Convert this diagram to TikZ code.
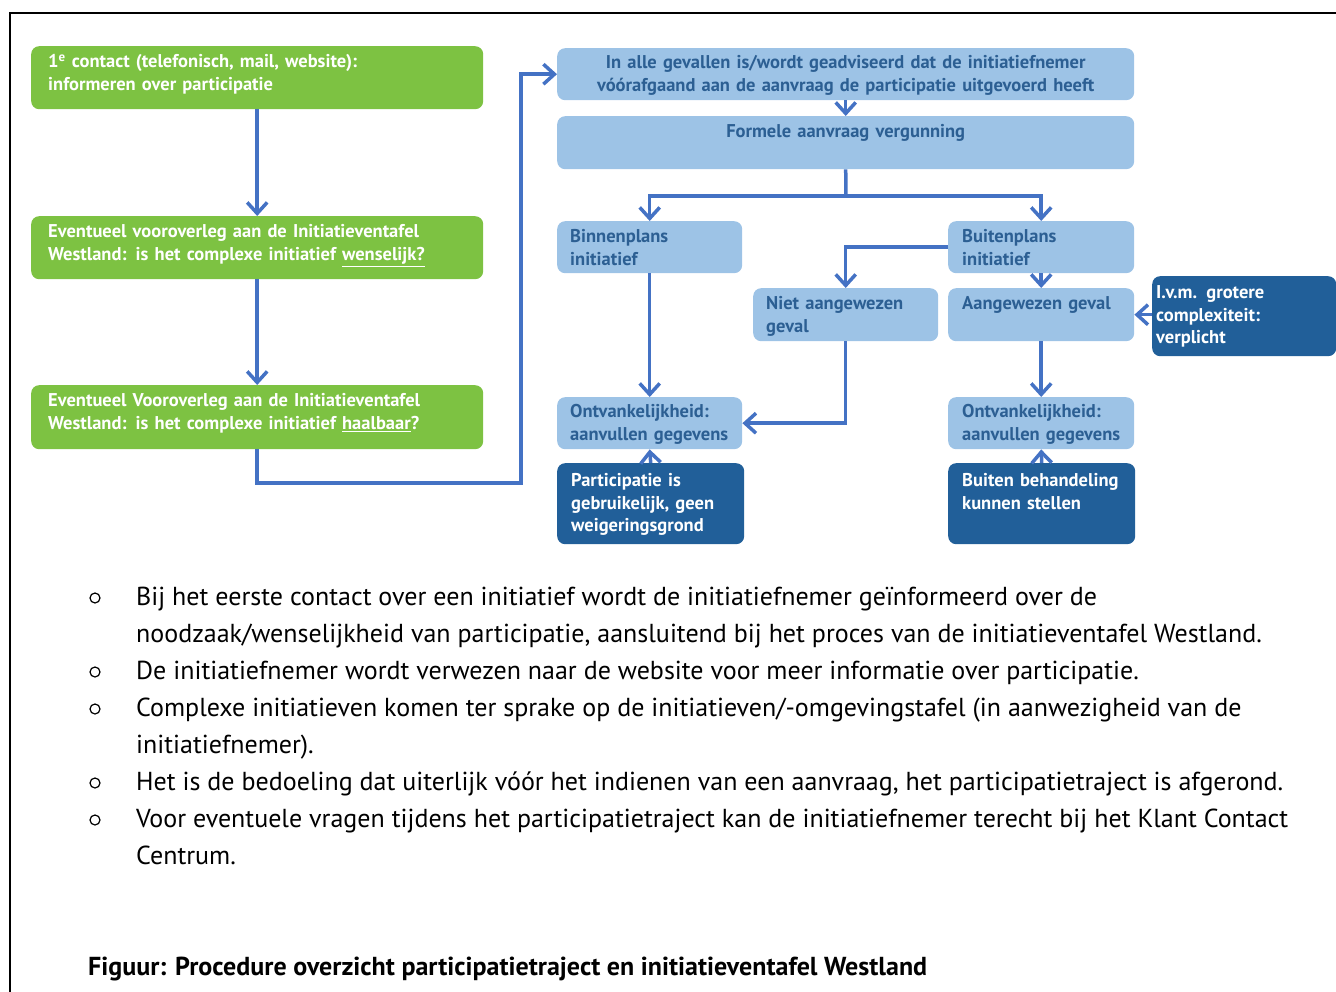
\documentclass[tikz,border=0pt]{standalone}
\usepackage{fontspec}
\setmainfont{PT Sans}
\newfontfamily\boxfont{PT Sans}
\usepackage{tikz}
\usetikzlibrary{arrows.meta}
\definecolor{grn}{HTML}{7DC242}
\definecolor{lightbl}{HTML}{9DC3E6}
\definecolor{darkbl}{HTML}{215F99}
\definecolor{txtbl}{HTML}{2C5F93}
\definecolor{arrowbl}{HTML}{4472C4}
\tikzstyle{greenbox} = [rectangle, rounded corners=8pt, fill=grn, text=white, anchor=north west, align=left, inner xsep=17pt, inner ysep=0pt, text width=418pt, text height=21.5pt, font=\boxfont\bfseries\fontsize{18.5}{23}\selectfont]
\tikzstyle{lightbox} = [rectangle, rounded corners=8pt, fill=lightbl, text=txtbl, anchor=north west, align=left, inner xsep=13pt, inner ysep=0pt, text height=21.5pt, font=\boxfont\bfseries\fontsize{18.5}{22.5}\selectfont]
\tikzstyle{darkbox} = [rectangle, rounded corners=8pt, fill=darkbl, text=white, anchor=north west, align=left, inner xsep=14pt, inner ysep=0pt, text height=23.5pt, font=\boxfont\bfseries\fontsize{18.5}{22.5}\selectfont]
\tikzstyle{arrow} = [line width=3.5pt, draw=arrowbl, -{Straight Barb[length=11pt,width=20pt]}]
\tikzstyle{line} = [line width=3.5pt, draw=arrowbl]
\tikzstyle{bullettext} = [anchor=base west, inner sep=0pt, font=\fontsize{26}{30}\selectfont]
\tikzstyle{bulletmark} = [circle, draw, line width=1.2pt, minimum size=10pt, inner sep=0pt]

\begin{document}
\begin{tikzpicture}[x=1pt, y=-1pt]
    \useasboundingbox (0,0) rectangle (1336,992);
    %kader
    \draw[line width=2.5pt] (10,992) -- (10,13) -- (1340,13);

    %linker kolom
    \node (contact) [greenbox, text depth=41.5pt] at (31,46) {1\textsuperscript{e} contact (telefonisch, mail, website):\\informeren over participatie};
    \node (wenselijk) [greenbox, text depth=41.5pt] at (31,216) {Eventueel vooroverleg aan de Initiatieventafel\\Westland: is het complexe initiatief \underline{wenselijk?}};
    \node (haalbaar) [greenbox, text depth=42.5pt] at (31,385) {Eventueel Vooroverleg aan de Initiatieventafel\\Westland: is het complexe initiatief \underline{haalbaar}?};

    %rechter kolom
    \node (advies) [lightbox, align=center, text width=551pt, text height=20.5pt, text depth=31.5pt] at (557,48) {In alle gevallen is/wordt geadviseerd dat de initiatiefnemer\\vóórafgaand aan de aanvraag de participatie uitgevoerd heeft};
    \node (aanvraag) [lightbox, align=center, text width=551pt, text depth=31.5pt] at (557,116) {Formele aanvraag vergunning};
    \node (binnen) [lightbox, text width=159pt, text depth=30.5pt] at (557,221) {Binnenplans\\initiatief};
    \node (buiten) [lightbox, inner xsep=14pt, text width=158pt, text depth=30.5pt] at (948,221) {Buitenplans\\initiatief};
    \node (niet) [lightbox, text width=159pt, text depth=31.5pt] at (753,288) {Niet aangewezen\\geval};
    \node (aangewezen) [lightbox, inner xsep=14pt, text width=158pt, text depth=31.5pt] at (948,288) {Aangewezen geval};
    \node (verplicht) [darkbox, inner xsep=4pt, text width=176pt, text height=22.5pt, text depth=57.5pt] at (1152,276) {I.v.m. grotere\\complexiteit:\\verplicht};
    \node (ontv1) [lightbox, text width=159pt, text height=20.5pt, text depth=31.5pt] at (557,397) {Ontvankelijkheid:\\aanvullen gegevens};
    \node (ontv2) [lightbox, inner xsep=14pt, text width=158pt, text height=20.5pt, text depth=31.5pt] at (948,397) {Ontvankelijkheid:\\aanvullen gegevens};
    \node (gebruikelijk) [darkbox, text width=159pt, text depth=57.5pt] at (557,463) {Participatie is\\gebruikelijk, geen\\weigeringsgrond};
    \node (behandeling) [darkbox, text width=159pt, text depth=57.5pt] at (948,463) {Buiten behandeling\\kunnen stellen};

    %verbindingen
    \coordinate (turn) at (521,483);
    \coordinate (split) at (846,196);
    \draw [arrow] (contact.south) -- (wenselijk.north);
    \draw [arrow] (wenselijk.south) -- (haalbaar.north);
    \draw [arrow] (haalbaar.south) |- (turn) |- (advies.west);
    \draw [arrow] (advies.south) -- (aanvraag.north);
    \draw [line] (aanvraag.south) -- (split);
    \draw [arrow] (split) -| (binnen.north);
    \draw [arrow] (split) -| (buiten.north);
    \draw [arrow] (buiten.west) -| (niet.north);
    \draw [arrow] (buiten.south) -- (aangewezen.north);
    \draw [arrow] (verplicht.west |- aangewezen.east) -- (aangewezen.east);
    \draw [arrow] (binnen.south) -- (ontv1.north);
    \draw [arrow] (niet.south) |- (ontv1.east);
    \draw [arrow] (aangewezen.south) -- (ontv2.north);
    \draw [arrow] (gebruikelijk.north) -- (ontv1.south);
    \draw [arrow] (behandeling.north) -- (ontv2.south);

    %toelichting
    \node (o1) [bulletmark] at (95,598) {};
    \node (o2) [bulletmark] at (95,672) {};
    \node (o3) [bulletmark] at (95,709) {};
    \node (o4) [bulletmark] at (95,783) {};
    \node (o5) [bulletmark] at (95,820) {};
    \node (r1) [bullettext] at (136,605) {Bij het eerste contact over een initiatief wordt de initiatiefnemer geïnformeerd over de};
    \node (r2) [bullettext] at (136,642) {noodzaak/wenselijkheid van participatie, aansluitend bij het proces van de initiatieventafel Westland.};
    \node (r3) [bullettext] at (136,679) {De initiatiefnemer wordt verwezen naar de website voor meer informatie over participatie.};
    \node (r4) [bullettext] at (136,716) {Complexe initiatieven komen ter sprake op de initiatieven/-omgevingstafel (in aanwezigheid van de};
    \node (r5) [bullettext] at (136,753) {initiatiefnemer).};
    \node (r6) [bullettext] at (136,790) {Het is de bedoeling dat uiterlijk vóór het indienen van een aanvraag, het participatietraject is afgerond.};
    \node (r7) [bullettext] at (136,827) {Voor eventuele vragen tijdens het participatietraject kan de initiatiefnemer terecht bij het Klant Contact};
    \node (r8) [bullettext] at (136,864) {Centrum.};
    \node (caption) [bullettext, font=\bfseries\fontsize{26}{30}\selectfont] at (88,975) {Figuur: Procedure overzicht participatietraject en initiatieventafel Westland};
\end{tikzpicture}
\end{document}
